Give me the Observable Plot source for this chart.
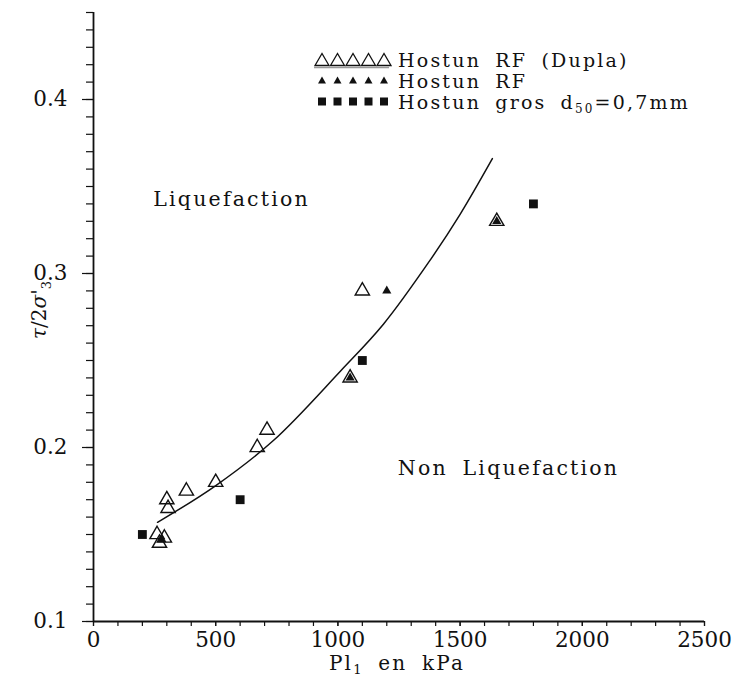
<!DOCTYPE html>
<html>
<head>
<meta charset="utf-8">
<script src="https://cdn.jsdelivr.net/npm/d3@7"></script>
<script src="https://cdn.jsdelivr.net/npm/@observablehq/plot@0.6"></script>
<style>
  body { margin: 0; background: #fff; }
  #wrap { position: relative; width: 733px; height: 682px; }
  text { font-family: "DejaVu Serif", serif; }
  .region-label text { letter-spacing: 2.2px; word-spacing: 6px; }
</style>
</head>
<body>
<div id="wrap"></div>
<script>
// Hostun RF (Dupla) — open triangles
const openX = [260, 290, 270, 300, 305, 380, 500, 670, 710, 1050, 1100, 1650];
const openY = [0.150, 0.148, 0.145, 0.170, 0.165, 0.175, 0.180, 0.200, 0.210, 0.240, 0.290, 0.330];
// Hostun RF — filled triangles
const filledX = [280, 1050, 1200, 1650];
const filledY = [0.147, 0.240, 0.290, 0.330];
// Hostun gros d50=0,7mm — filled squares
const squareX = [200, 600, 1100, 1800];
const squareY = [0.150, 0.170, 0.250, 0.340];
// boundary curve
const curveX = [262, 499, 736, 1011, 1187, 1379, 1500, 1632];
const curveY = [0.157, 0.178, 0.204, 0.244, 0.271, 0.308, 0.334, 0.366];

const xMajor = [0, 500, 1000, 1500, 2000, 2500];
const yMajor = [0.1, 0.2, 0.3, 0.4];
const xMinor = d3.range(0, 2501, 100);
const yMinor = d3.range(10, 46).map(d => d / 100);

const labels = ["Liquefaction", "Non Liquefaction"];
const labelX = [565, 1698];
const labelY = [0.3427, 0.188];

const legendNames = ["Hostun RF (Dupla)", "Hostun RF", "Hostun gros d\u2085\u2080=0,7mm"];

const zip = (xs, ys) => xs.map((x, i) => ({x, y: ys[i]}));
const openData = zip(openX, openY);
const filledData = zip(filledX, filledY);
const squareData = zip(squareX, squareY);
const curveData = zip(curveX, curveY);
const labelData = labels.map((t, i) => ({t, x: labelX[i], y: labelY[i]}));

const ink = "#111";
const chart = Plot.plot({
  width: 733,
  height: 682,
  marginLeft: 93,
  marginRight: 29,
  marginTop: 12,
  marginBottom: 61,
  x: {domain: [0, 2500]},
  y: {domain: [0.1, 0.45]},
  style: {fontFamily: "DejaVu Serif, serif", color: ink, background: "#fff"},
  marks: [
    Plot.axisX({ticks: xMinor, tickSize: 5, tickFormat: () => "", label: null, stroke: ink, strokeWidth: 1.2}),
    Plot.axisX({ticks: xMajor, tickSize: 5, tickPadding: 5, fontSize: 21.5, stroke: ink, strokeWidth: 1.2,
      label: null, tickFormat: d => String(d)}),
    Plot.axisY({ticks: yMinor, tickSize: 7, tickFormat: () => "", label: null, stroke: ink, strokeWidth: 1.2}),
    Plot.axisY({ticks: yMajor, tickSize: 11, tickPadding: 15, fontSize: 21.5, stroke: ink, strokeWidth: 1.2,
      label: null, tickFormat: d => d.toFixed(1)}),
    Plot.ruleX([0], {y1: 0.1, y2: 0.45, stroke: ink, strokeWidth: 1.8}),
    Plot.ruleY([0.1], {x1: 0, x2: 2500, stroke: ink, strokeWidth: 1.8}),
    Plot.line(curveData, {x: "x", y: "y", curve: "catmull-rom", stroke: ink, strokeWidth: 1.5}),
    Plot.dot(openData, {x: "x", y: "y", symbol: "triangle", r: 5.3, stroke: ink, strokeWidth: 1.4, fill: "none"}),
    Plot.dot(filledData, {x: "x", y: "y", symbol: "triangle", r: 3.4, fill: ink, stroke: "none"}),
    Plot.dot(squareData, {x: "x", y: "y", symbol: "square", r: 5, fill: ink, stroke: "none"}),
    Plot.text(labelData, {x: "x", y: "y", text: "t", fontSize: 20.5, fill: ink, className: "region-label"})
  ]
});
document.getElementById("wrap").appendChild(chart);

const svg = d3.select(chart);

// x-axis label
const xl = svg.append("text")
  .attr("x", 397).attr("y", 670)
  .attr("text-anchor", "middle")
  .attr("font-size", 20)
  .attr("fill", ink)
  .attr("style", "letter-spacing:2.2px;word-spacing:6px");
xl.append("tspan").text("Pl");
xl.append("tspan").attr("font-size", 13).attr("dy", 4).text("1");
xl.append("tspan").attr("dy", -4).text(" en kPa");

// y-axis label
const yl = svg.append("text")
  .attr("transform", "translate(46,310) rotate(-90)")
  .attr("text-anchor", "middle")
  .attr("font-size", 20)
  .attr("fill", ink);
yl.append("tspan").attr("font-style", "italic").text("\u03c4");
yl.append("tspan").text("/2");
yl.append("tspan").attr("font-style", "italic").text("\u03c3");
yl.append("tspan").text("'");
yl.append("tspan").attr("font-size", 13).attr("dy", 5).text("3");

// legend
const lg = svg.append("g").attr("fill", ink);
const rowsY = [59.5, 80.5, 101.5];
legendNames.forEach((name, i) => {
  const yc = rowsY[i];
  for (let k = 0; k < 5; k++) {
    const cx = 322 + k * 15.5;
    if (i === 0) {
      lg.append("path").attr("d", `M${cx - 7},${yc + 6}L${cx},${yc - 6}L${cx + 7},${yc + 6}Z`)
        .attr("fill", "none").attr("stroke", ink).attr("stroke-width", 1.3);
    } else if (i === 1) {
      lg.append("path").attr("d", `M${cx - 4},${yc + 3}L${cx},${yc - 4}L${cx + 4},${yc + 3}Z`).attr("fill", ink);
    } else {
      lg.append("rect").attr("x", cx - 4).attr("y", yc - 4).attr("width", 8).attr("height", 8).attr("fill", ink);
    }
  }
  if (i === 0) lg.append("line").attr("x1", 314).attr("x2", 389).attr("y1", yc + 8).attr("y2", yc + 8)
    .attr("stroke", "#999").attr("stroke-width", 1.5);
  const t = lg.append("text").attr("x", 398).attr("y", yc + 7).attr("font-size", 19)
    .attr("text-anchor", "start").attr("style", "letter-spacing:2.2px;word-spacing:6px");
  if (i === 2) {
    t.append("tspan").text("Hostun gros");
    t.append("tspan").attr("dx", 14).text("d");
    t.append("tspan").attr("font-size", 12).attr("dy", 4).text("50");
    t.append("tspan").attr("dy", -4).text("=0,7mm");
  } else {
    t.text(name);
  }
});
</script>
</body>
</html>
